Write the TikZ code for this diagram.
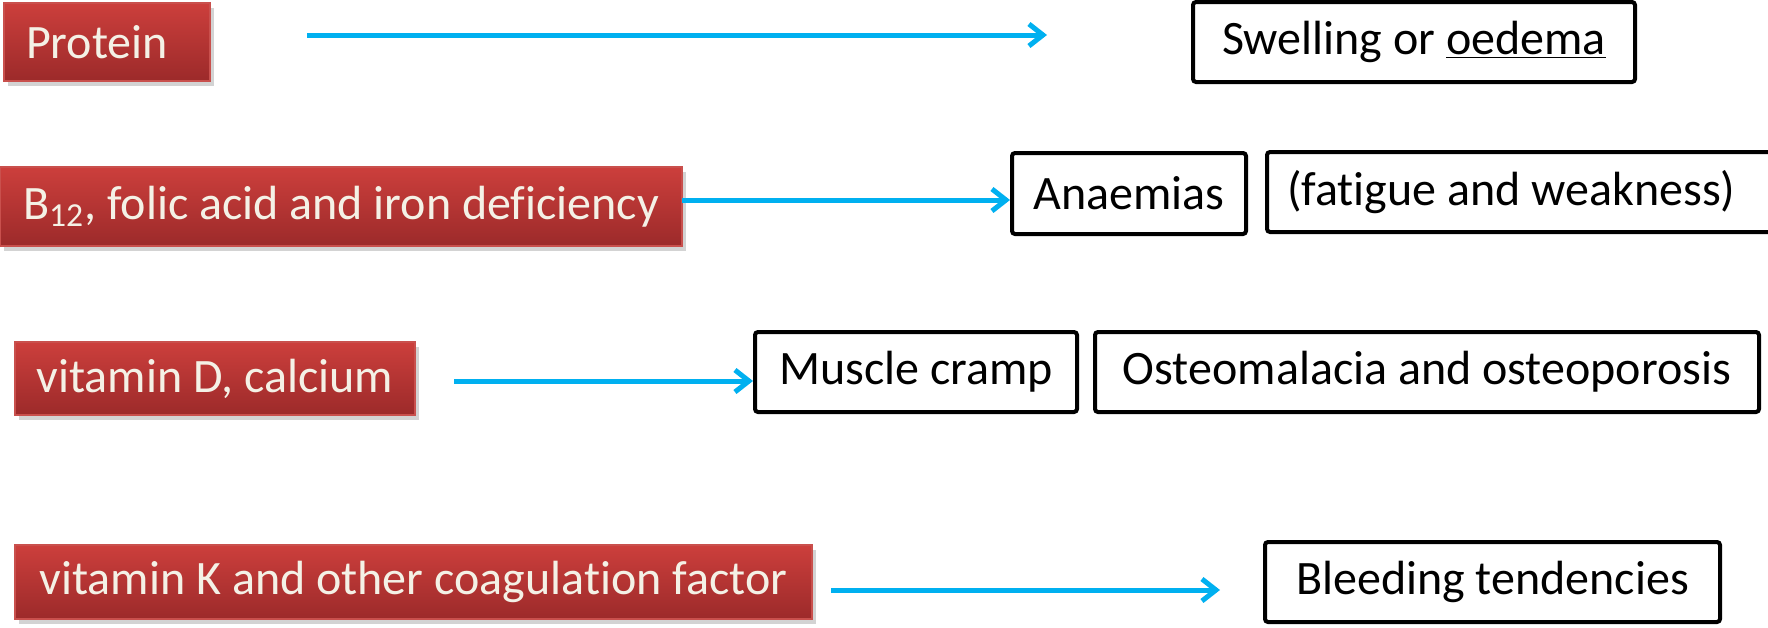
\documentclass[tikz,border=0pt]{standalone}
\usepackage{fontspec}
\setmainfont{Carlito}[Ligatures=NoCommon]
\usetikzlibrary{arrows.meta,shadows}
\definecolor{redtop}{HTML}{CC3F3C}
\definecolor{redbot}{HTML}{9C2A2A}
\definecolor{redline}{HTML}{C9504D}
\definecolor{redtext}{HTML}{F4F1E6}
\definecolor{arrowblue}{HTML}{00B0F0}
\tikzset{
  cause/.style={draw=redline, line width=0.6pt, top color=redtop, bottom color=redbot,
    text=redtext, font=\fontsize{24}{28}\selectfont, inner sep=0pt,
    drop shadow={opacity=0.35, shadow xshift=2pt, shadow yshift=-2.5pt}},
  effect/.style={draw=black, line width=2pt, fill=white, rounded corners=1.5pt,
    text=black, font=\fontsize{24}{28}\selectfont, inner sep=0pt},
  link/.style={draw=arrowblue, line width=2.5pt, -{Straight Barb[length=7pt,width=11pt]}}
}
\begin{document}
\begin{tikzpicture}[x=0.5pt,y=-0.5pt]
\useasboundingbox (0,0) rectangle (1768,627);
% causes
\node[cause, minimum width=103pt, minimum height=39pt] (prot) at (107,42) {\hspace*{-10pt}Protein};
\node[cause, minimum width=341pt, minimum height=39.5pt] (b12) at (341,206.5) {B\textsubscript{12}, folic acid and iron deficiency};
\node[cause, minimum width=200pt, minimum height=36.5pt] (vitd) at (215,378.5) {vitamin D, calcium};
\node[cause, minimum width=398.5pt, minimum height=37pt] (vitk) at (413.5,582) {vitamin K and other coagulation factor};
% effects
\node[effect, minimum width=221pt, minimum height=40pt] (swell) at (1414,42) {Swelling or \underline{oedema}};
\node[effect, minimum width=117pt, minimum height=40.5pt] (anae) at (1129,193.5) {Anaemias};
\node[effect, anchor=west, minimum width=255pt, minimum height=40pt, text width=235pt, inner xsep=10pt, align=flush left] (fatig) at (1265,192) {(fatigue and weakness)};
\node[effect, minimum width=161pt, minimum height=40pt] (musc) at (916,372) {Muscle cramp};
\node[effect, minimum width=332pt, minimum height=40pt] (osteo) at (1427,372) {Osteomalacia and osteoporosis};
\node[effect, minimum width=227.5pt, minimum height=40pt] (bleed) at (1492.5,582) {Bleeding tendencies};
% arrow end points
\coordinate (a1s) at (307,35);
\coordinate (a1e) at (1047,35);
\coordinate (a2s) at (682,200);
\coordinate (a3s) at (454,381);
\coordinate (a4s) at (831,590);
\coordinate (a4e) at (1220,590);
% connectors
\draw[link] (a1s) -- (a1e);
\draw[link] (a2s) -- (a2s -| anae.west);
\draw[link] (a3s) -- (a3s -| musc.west);
\draw[link] (a4s) -- (a4e);
\end{tikzpicture}
\end{document}
